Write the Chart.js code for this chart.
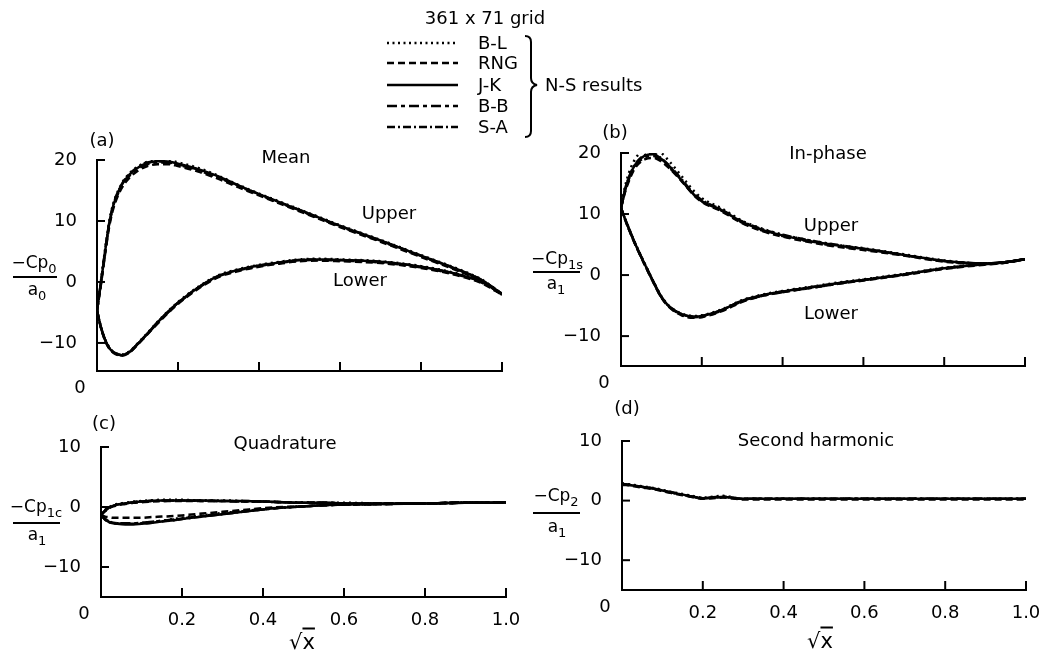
<!DOCTYPE html>
<html>
<head>
<meta charset="utf-8">
<script src="https://cdn.jsdelivr.net/npm/chart.js@4.4.0/dist/chart.umd.min.js"></script>
<style>
html,body{margin:0;padding:0;background:#fff;}
#wrap{position:relative;width:1054px;height:658px;overflow:hidden;font-family:'DejaVu Sans',sans-serif;font-size:18px;color:#000;background:#fff;}
canvas{position:absolute;}
.t{position:absolute;transform:translate(-50%,-50%);white-space:nowrap;line-height:1;z-index:2;}
.l{position:absolute;transform:translateY(-50%);white-space:nowrap;line-height:1;z-index:2;}
.bar{position:absolute;border-top:2px solid #000;height:0;z-index:2;}
.f{font-size:17px;}
.s{position:relative;top:5px;font-size:13px;}
.ov{text-decoration:overline;}
.rx{font-size:21px;}
svg{position:absolute;left:0;top:0;z-index:1;}
</style>
</head>
<body>
<div id="wrap">
<canvas id="ca" width="530" height="270" style="left:0;top:130px"></canvas>
<canvas id="cb" width="527" height="270" style="left:527px;top:130px"></canvas>
<canvas id="cc" width="530" height="258" style="left:0;top:400px"></canvas>
<canvas id="cd" width="527" height="258" style="left:527px;top:400px"></canvas>

<svg width="1054" height="150">
  <line x1="387" y1="43" x2="458" y2="43" stroke="#000" stroke-width="2.5" stroke-dasharray="2,3.5"/>
  <line x1="387" y1="63" x2="458" y2="63" stroke="#000" stroke-width="2.5" stroke-dasharray="7,4"/>
  <line x1="387" y1="85" x2="458" y2="85" stroke="#000" stroke-width="2.5"/>
  <line x1="387" y1="106" x2="458" y2="106" stroke="#000" stroke-width="2.5" stroke-dasharray="10,4,4,4"/>
  <line x1="387" y1="127" x2="458" y2="127" stroke="#000" stroke-width="2.5" stroke-dasharray="8,3,2,3"/>
  <path d="M525,36 Q531,36 531,42 L531,78 Q531,84 537,85 Q531,86 531,92 L531,131 Q531,137 525,137" fill="none" stroke="#000" stroke-width="2"/>
</svg>

<div class="t" style="left:485px;top:18px">361 x 71 grid</div>
<div class="l" style="left:478px;top:43px">B-L</div>
<div class="l" style="left:478px;top:63px">RNG</div>
<div class="l" style="left:478px;top:85px">J-K</div>
<div class="l" style="left:478px;top:106px">B-B</div>
<div class="l" style="left:478px;top:127px">S-A</div>
<div class="l" style="left:545px;top:85px">N-S results</div>

<div class="t" style="left:102px;top:140px">(a)</div>
<div class="t" style="left:286px;top:157px">Mean</div>
<div class="t" style="left:389px;top:213px">Upper</div>
<div class="t" style="left:360px;top:280px">Lower</div>

<div class="t" style="left:615px;top:132px">(b)</div>
<div class="t" style="left:828px;top:153px">In-phase</div>
<div class="t" style="left:831px;top:225px">Upper</div>
<div class="t" style="left:831px;top:313px">Lower</div>

<div class="t" style="left:104px;top:423px">(c)</div>
<div class="t" style="left:285px;top:443px">Quadrature</div>

<div class="t" style="left:627px;top:408px">(d)</div>
<div class="t" style="left:816px;top:440px">Second harmonic</div>

<div class="t rx" style="left:302px;top:642px">√<span class="ov">x</span></div>
<div class="t rx" style="left:820px;top:641px">√<span class="ov">x</span></div>

<div class="t f" style="left:34px;top:262px">−Cp<span class="s">0</span></div>
<div class="bar" style="left:13px;top:276px;width:44px"></div>
<div class="t f" style="left:37px;top:289px">a<span class="s">0</span></div>

<div class="t f" style="left:557px;top:258px">−Cp<span class="s">1s</span></div>
<div class="bar" style="left:533px;top:271px;width:47px"></div>
<div class="t f" style="left:556px;top:283px">a<span class="s">1</span></div>

<div class="t f" style="left:36px;top:506px">−Cp<span class="s">1c</span></div>
<div class="bar" style="left:13px;top:522px;width:47px"></div>
<div class="t f" style="left:37px;top:534px">a<span class="s">1</span></div>

<div class="t f" style="left:556px;top:495px">−Cp<span class="s">2</span></div>
<div class="bar" style="left:533px;top:512px;width:47px"></div>
<div class="t f" style="left:557px;top:526px">a<span class="s">1</span></div>
</div>

<script>
// ---- data (x is sqrt(x/c)) ----
const sx = [0, 0.01, 0.02, 0.03, 0.04, 0.06, 0.08, 0.10, 0.12, 0.15, 0.18, 0.20, 0.25, 0.30, 0.35, 0.40, 0.45, 0.50, 0.55, 0.60, 0.70, 0.80, 0.90, 0.95, 1.00];
const models = ['B-L', 'RNG', 'J-K', 'B-B', 'S-A'];
const xTickLabels = ['0', '0.2', '0.4', '0.6', '0.8', '1.0'];

// (a) Mean
const aUpBL  = [-4.7, 0.3, 5.3, 9.8, 12.8, 16.0, 17.8, 18.9, 19.6, 20.0, 19.9, 19.6, 18.7, 17.4, 15.9, 14.5, 13.2, 11.9, 10.6, 9.3, 6.9, 4.4, 1.9, 0.4, -2.0];
const aUpRNG = [-4.7, -0.3, 4.6, 9.0, 12.0, 15.3, 17.1, 18.2, 18.9, 19.3, 19.3, 19.0, 18.1, 16.9, 15.5, 14.2, 12.9, 11.6, 10.3, 9.0, 6.6, 4.1, 1.6, 0.1, -2.1];
const aUpJK  = [-4.7, 0.0, 5.0, 9.5, 12.5, 15.8, 17.6, 18.7, 19.4, 19.8, 19.7, 19.4, 18.5, 17.3, 15.8, 14.4, 13.1, 11.8, 10.5, 9.2, 6.8, 4.3, 1.8, 0.3, -2.0];
const aUpBB  = [-4.7, -0.1, 4.8, 9.3, 12.3, 15.6, 17.4, 18.5, 19.2, 19.6, 19.5, 19.2, 18.3, 17.1, 15.7, 14.3, 13.0, 11.7, 10.4, 9.1, 6.7, 4.2, 1.7, 0.2, -2.0];
const aUpSA  = [-4.7, 0.1, 5.1, 9.6, 12.6, 15.9, 17.7, 18.8, 19.5, 19.8, 19.6, 19.3, 18.4, 17.2, 15.8, 14.4, 13.1, 11.8, 10.5, 9.2, 6.8, 4.3, 1.8, 0.3, -1.9];
const aLoBL  = [-4.7, -7.4, -9.4, -10.7, -11.4, -11.9, -11.4, -10.1, -8.7, -6.5, -4.5, -3.3, -0.8, 1.1, 2.1, 2.8, 3.3, 3.7, 3.8, 3.7, 3.4, 2.6, 1.2, 0.1, -2.0];
const aLoRNG = [-4.7, -7.6, -9.6, -10.9, -11.6, -12.1, -11.6, -10.3, -8.9, -6.8, -4.8, -3.6, -1.1, 0.8, 1.8, 2.5, 3.0, 3.4, 3.5, 3.4, 3.1, 2.3, 0.9, -0.2, -2.1];
const aLoJK  = [-4.7, -7.5, -9.5, -10.8, -11.5, -12.0, -11.5, -10.2, -8.8, -6.6, -4.6, -3.4, -0.9, 1.0, 2.0, 2.7, 3.2, 3.6, 3.7, 3.6, 3.3, 2.5, 1.1, 0.0, -2.0];
const aLoBB  = [-4.7, -7.5, -9.5, -10.8, -11.5, -12.0, -11.5, -10.2, -8.8, -6.7, -4.7, -3.5, -1.0, 0.9, 1.9, 2.6, 3.1, 3.5, 3.6, 3.5, 3.2, 2.4, 1.0, -0.1, -2.0];
const aLoSA  = [-4.7, -7.5, -9.5, -10.8, -11.5, -12.0, -11.5, -10.2, -8.8, -6.6, -4.6, -3.4, -0.9, 1.0, 2.0, 2.7, 3.2, 3.6, 3.7, 3.6, 3.3, 2.5, 1.1, 0.0, -1.9];

// (b) In-phase
const bUpBL  = [11.0, 14.5, 16.8, 18.4, 19.5, 20.6, 20.8, 20.0, 18.6, 16.2, 13.8, 12.6, 10.9, 8.9, 7.6, 6.6, 5.9, 5.3, 4.8, 4.4, 3.4, 2.4, 1.9, 2.1, 2.6];
const bUpRNG = [11.0, 13.6, 15.5, 17.0, 18.0, 19.0, 19.2, 18.6, 17.5, 15.4, 13.1, 12.0, 10.4, 8.5, 7.2, 6.3, 5.6, 5.0, 4.5, 4.1, 3.2, 2.2, 1.8, 2.0, 2.6];
const bUpJK  = [11.0, 13.8, 16.0, 17.5, 18.5, 19.6, 19.8, 19.0, 17.8, 15.5, 13.2, 12.1, 10.6, 8.7, 7.4, 6.5, 5.8, 5.2, 4.7, 4.3, 3.3, 2.3, 1.9, 2.1, 2.6];
const bUpBB  = [11.0, 13.8, 15.8, 17.3, 18.3, 19.3, 19.5, 18.8, 17.6, 15.5, 13.2, 12.1, 10.5, 8.6, 7.3, 6.4, 5.7, 5.1, 4.6, 4.2, 3.3, 2.3, 1.9, 2.1, 2.6];
const bUpSA  = [11.0, 14.1, 16.1, 17.6, 18.6, 19.7, 19.9, 19.1, 17.9, 15.7, 13.4, 12.3, 10.7, 8.8, 7.5, 6.6, 5.9, 5.3, 4.8, 4.3, 3.3, 2.3, 1.9, 2.1, 2.6];
const bLoBL  = [11.0, 9.3, 7.6, 6.0, 4.5, 1.7, -1.0, -3.5, -5.1, -6.3, -6.7, -6.6, -5.6, -4.1, -3.2, -2.6, -2.1, -1.6, -1.1, -0.7, 0.2, 1.2, 1.8, 2.1, 2.6];
const bLoRNG = [11.0, 9.1, 7.4, 5.8, 4.3, 1.5, -1.2, -3.7, -5.3, -6.6, -7.0, -6.9, -5.9, -4.4, -3.4, -2.8, -2.3, -1.8, -1.3, -0.9, 0.0, 1.0, 1.7, 2.0, 2.6];
const bLoJK  = [11.0, 9.2, 7.5, 5.9, 4.4, 1.6, -1.1, -3.6, -5.2, -6.4, -6.8, -6.7, -5.7, -4.2, -3.3, -2.7, -2.2, -1.7, -1.2, -0.8, 0.1, 1.1, 1.8, 2.1, 2.6];
const bLoBB  = [11.0, 9.2, 7.5, 5.9, 4.4, 1.6, -1.1, -3.6, -5.2, -6.5, -6.9, -6.8, -5.8, -4.3, -3.4, -2.8, -2.3, -1.8, -1.3, -0.8, 0.1, 1.1, 1.8, 2.1, 2.6];
const bLoSA  = [11.0, 9.2, 7.5, 5.9, 4.4, 1.6, -1.1, -3.6, -5.2, -6.4, -6.8, -6.7, -5.7, -4.2, -3.3, -2.7, -2.2, -1.7, -1.2, -0.8, 0.1, 1.1, 1.8, 2.1, 2.6];

// (c) Quadrature
const cUpBL  = [-1.3, -0.5, 0.0, 0.3, 0.5, 0.7, 0.9, 1.0, 1.1, 1.2, 1.2, 1.2, 1.1, 1.1, 1.0, 0.9, 0.8, 0.8, 0.7, 0.7, 0.6, 0.6, 0.7, 0.7, 0.8];
const cUpRNG = [-1.3, -0.7, -0.2, 0.1, 0.3, 0.5, 0.7, 0.8, 0.9, 1.0, 1.0, 1.0, 1.0, 1.0, 0.9, 0.9, 0.8, 0.7, 0.7, 0.6, 0.6, 0.6, 0.7, 0.7, 0.8];
const cUpJK  = [-1.3, -0.6, -0.1, 0.2, 0.4, 0.6, 0.8, 0.9, 1.0, 1.1, 1.1, 1.1, 1.1, 1.0, 1.0, 0.9, 0.8, 0.7, 0.7, 0.6, 0.6, 0.6, 0.7, 0.7, 0.8];
const cUpBB  = [-1.3, -0.6, -0.1, 0.2, 0.4, 0.6, 0.8, 0.9, 1.0, 1.0, 1.1, 1.1, 1.0, 1.0, 0.9, 0.9, 0.8, 0.7, 0.7, 0.6, 0.6, 0.6, 0.7, 0.7, 0.8];
const cUpSA  = [-1.3, -0.6, -0.1, 0.2, 0.4, 0.6, 0.8, 0.9, 1.0, 1.1, 1.1, 1.1, 1.1, 1.0, 1.0, 0.9, 0.8, 0.7, 0.7, 0.6, 0.6, 0.6, 0.7, 0.7, 0.8];
const cLoBL  = [-1.3, -2.0, -2.4, -2.6, -2.7, -2.8, -2.8, -2.7, -2.5, -2.3, -2.0, -1.8, -1.4, -1.0, -0.7, -0.3, -0.1, 0.1, 0.3, 0.4, 0.5, 0.6, 0.7, 0.7, 0.8];
const cLoRNG = [-1.3, -1.6, -1.7, -1.8, -1.8, -1.8, -1.8, -1.8, -1.7, -1.6, -1.5, -1.4, -1.1, -0.8, -0.5, -0.2, 0.0, 0.1, 0.3, 0.4, 0.5, 0.6, 0.7, 0.7, 0.8];
const cLoJK  = [-1.3, -2.1, -2.5, -2.7, -2.8, -2.9, -2.9, -2.8, -2.7, -2.4, -2.2, -2.0, -1.6, -1.2, -0.8, -0.4, -0.1, 0.1, 0.3, 0.4, 0.5, 0.6, 0.7, 0.7, 0.8];
const cLoBB  = [-1.3, -2.0, -2.4, -2.6, -2.7, -2.7, -2.7, -2.6, -2.5, -2.3, -2.1, -1.9, -1.5, -1.1, -0.7, -0.4, -0.1, 0.1, 0.3, 0.4, 0.5, 0.6, 0.7, 0.7, 0.8];
const cLoSA  = [-1.3, -2.1, -2.5, -2.7, -2.8, -2.8, -2.8, -2.7, -2.6, -2.4, -2.2, -2.0, -1.6, -1.2, -0.8, -0.4, -0.1, 0.1, 0.3, 0.4, 0.5, 0.6, 0.7, 0.7, 0.8];

// (d) Second harmonic
const dBL  = [2.9, 2.8, 2.7, 2.6, 2.5, 2.3, 2.1, 1.8, 1.5, 1.1, 0.7, 0.5, 0.8, 0.3, 0.3, 0.3, 0.3, 0.3, 0.3, 0.3, 0.3, 0.3, 0.3, 0.3, 0.3];
const dRNG = [2.6, 2.6, 2.5, 2.4, 2.3, 2.1, 1.9, 1.6, 1.3, 0.9, 0.5, 0.3, 0.5, 0.2, 0.2, 0.2, 0.2, 0.2, 0.2, 0.2, 0.2, 0.2, 0.2, 0.2, 0.2];
const dJK  = [2.7, 2.7, 2.6, 2.5, 2.4, 2.2, 2.0, 1.7, 1.4, 1.0, 0.6, 0.4, 0.6, 0.3, 0.3, 0.3, 0.3, 0.3, 0.3, 0.3, 0.3, 0.3, 0.3, 0.3, 0.3];
const dBB  = [2.8, 2.7, 2.6, 2.5, 2.4, 2.2, 2.0, 1.7, 1.4, 1.0, 0.6, 0.4, 0.7, 0.3, 0.3, 0.3, 0.3, 0.3, 0.3, 0.3, 0.3, 0.3, 0.3, 0.3, 0.3];
const dSA  = [2.7, 2.7, 2.6, 2.5, 2.4, 2.2, 2.0, 1.7, 1.4, 1.0, 0.6, 0.4, 0.6, 0.3, 0.3, 0.3, 0.3, 0.3, 0.3, 0.3, 0.3, 0.3, 0.3, 0.3, 0.3];

// ---- styling ----
const dashes = {'B-L': [2, 4], 'RNG': [7, 4], 'J-K': [], 'B-B': [10, 4, 4, 4], 'S-A': [8, 3, 2, 3]};
const FONT = {family: "'DejaVu Sans', sans-serif", size: 18};

Chart.defaults.font.family = FONT.family;
Chart.defaults.font.size = FONT.size;
Chart.defaults.color = '#000';

const axisDeco = {
  id: 'axisDeco',
  afterDraw(chart) {
    const {ctx, chartArea: a, scales: {x, y}} = chart;
    ctx.save();
    ctx.strokeStyle = '#000';
    ctx.lineWidth = 2;
    y.ticks.forEach(t => {
      const py = y.getPixelForValue(t.value);
      ctx.beginPath(); ctx.moveTo(a.left, py); ctx.lineTo(a.left + 8, py); ctx.stroke();
    });
    x.ticks.forEach(t => {
      if (t.value === 0) return;
      const px = x.getPixelForValue(t.value);
      ctx.beginPath(); ctx.moveTo(px, a.bottom); ctx.lineTo(px, a.bottom - 9); ctx.stroke();
    });
    ctx.fillStyle = '#000';
    ctx.font = FONT.size + 'px ' + FONT.family;
    ctx.textAlign = 'center';
    ctx.textBaseline = 'middle';
    ctx.fillText(xTickLabels[0], x.getPixelForValue(0) - 17, a.bottom + 17);
    ctx.restore();
  }
};

function series(label, arr) {
  return {
    label: label,
    data: sx.map((s, i) => ({x: s, y: arr[i]})),
    borderColor: '#000',
    backgroundColor: '#000',
    borderWidth: 2.5,
    borderDash: dashes[label],
    pointRadius: 0,
    showLine: true,
    fill: false,
    cubicInterpolationMode: 'monotone'
  };
}

function panel(id, sets, o) {
  new Chart(document.getElementById(id), {
    type: 'scatter',
    data: {datasets: sets},
    plugins: [axisDeco],
    options: {
      responsive: false,
      animation: false,
      devicePixelRatio: 1,
      layout: {padding: {left: 0, top: o.top, right: o.right, bottom: 0}},
      plugins: {legend: {display: false}, tooltip: {enabled: false}},
      scales: {
        x: {
          type: 'linear', min: 0, max: 1,
          grid: {display: false},
          border: {display: true, color: '#000', width: 2},
          ticks: {
            display: o.xlabels, stepSize: 0.2, autoSkip: false, maxRotation: 0, padding: 5, color: '#000',
            callback: v => {
              const i = Math.round(v / 0.2);
              return i === 0 ? '' : xTickLabels[i];
            }
          },
          afterFit: s => { s.height = o.xh; }
        },
        y: {
          type: 'linear', min: o.ymin, max: o.ymax,
          grid: {display: false},
          border: {display: true, color: '#000', width: 2},
          ticks: {
            stepSize: 10, includeBounds: false, padding: 12, color: '#000',
            callback: v => (v < 0 ? '\u2212' + Math.abs(v) : String(v))
          },
          afterFit: s => { s.width = o.yw; }
        }
      }
    }
  });
}

panel('ca', [
  series('B-L', aUpBL), series('RNG', aUpRNG), series('J-K', aUpJK), series('B-B', aUpBB), series('S-A', aUpSA),
  series('B-L', aLoBL), series('RNG', aLoRNG), series('J-K', aLoJK), series('B-B', aLoBB), series('S-A', aLoSA)
], {top: 30, right: 28, xh: 29, yw: 97, ymin: -14.6, ymax: 20, xlabels: false});

panel('cb', [
  series('B-L', bUpBL), series('RNG', bUpRNG), series('J-K', bUpJK), series('B-B', bUpBB), series('S-A', bUpSA),
  series('B-L', bLoBL), series('RNG', bLoRNG), series('J-K', bLoJK), series('B-B', bLoBB), series('S-A', bLoSA)
], {top: 23, right: 29, xh: 34, yw: 94, ymin: -14.9, ymax: 20, xlabels: false});

panel('cc', [
  series('B-L', cUpBL), series('RNG', cUpRNG), series('J-K', cUpJK), series('B-B', cUpBB), series('S-A', cUpSA),
  series('B-L', cLoBL), series('RNG', cLoRNG), series('J-K', cLoJK), series('B-B', cLoBB), series('S-A', cLoSA)
], {top: 47, right: 24, xh: 61, yw: 101, ymin: -15, ymax: 10, xlabels: true});

panel('cd', [
  series('B-L', dBL), series('RNG', dRNG), series('J-K', dJK), series('B-B', dBB), series('S-A', dSA)
], {top: 41, right: 28, xh: 68, yw: 95, ymin: -15, ymax: 10, xlabels: true});
</script>
</body>
</html>
